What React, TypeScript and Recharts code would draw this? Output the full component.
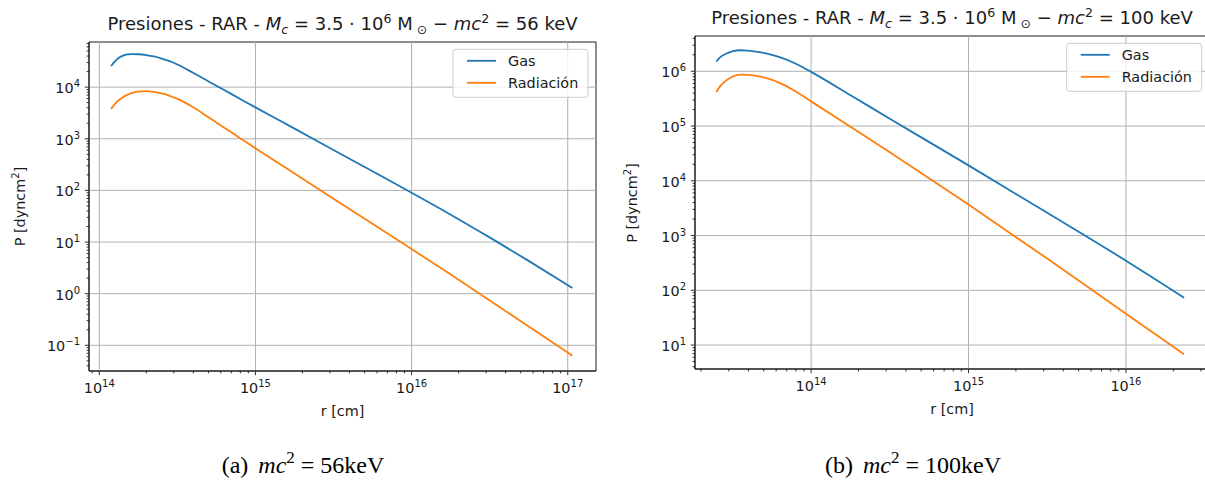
import React from 'react';
import { LineChart, Line, XAxis, YAxis, ReferenceLine, ReferenceArea } from 'recharts';

// (a) mc^2 = 56 keV
const rA = [1.19e14, 1.26e14, 1.33e14, 1.41e14, 1.51e14, 1.62e14, 1.78e14, 2.0e14, 2.24e14, 2.51e14, 2.82e14, 3.16e14, 3.98e14, 5.01e14, 6.31e14, 7.94e14, 1.0e15, 1.78e15, 3.16e15, 5.62e15, 1.0e16, 1.78e16, 3.16e16, 5.62e16, 1.07e17];
const gasA = [2.57e4, 3.16e4, 3.67e4, 4.03e4, 4.29e4, 4.37e4, 4.33e4, 4.18e4, 3.92e4, 3.57e4, 3.18e4, 2.74e4, 1.9e4, 1.29e4, 8.77e3, 5.96e3, 4.05e3, 1.57e3, 605, 234, 90.2, 33.9, 12.3, 4.32, 1.29];
const radA = [3.76e3, 4.73e3, 5.56e3, 6.31e3, 7.08e3, 7.73e3, 8.22e3, 8.39e3, 8.07e3, 7.53e3, 6.8e3, 5.94e3, 4.11e3, 2.6e3, 1.64e3, 1.04e3, 653, 213, 69.2, 22.5, 7.33, 2.34, 0.741, 0.232, 0.0631];

// (b) mc^2 = 100 keV
const rB = [2.5e13, 2.63e13, 2.88e13, 3.16e13, 3.55e13, 3.98e13, 5.01e13, 6.31e13, 7.94e13, 1.0e14, 1.78e14, 3.16e14, 1.0e15, 3.16e15, 1.0e16, 2.34e16];
const gasB = [1.51e6, 1.78e6, 2.09e6, 2.32e6, 2.42e6, 2.38e6, 2.16e6, 1.81e6, 1.39e6, 9.77e5, 3.65e5, 1.36e5, 1.91e4, 2.6e3, 347, 73.3];
const radB = [4.17e5, 5.25e5, 6.76e5, 7.94e5, 8.69e5, 8.63e5, 7.73e5, 6.14e5, 4.31e5, 2.82e5, 9.7e4, 3.31e4, 3.67e3, 380, 37.2, 6.76];

const xTicksA = [1e14, 1e15, 1e16, 1e17];
const yTicksA = [1e-1, 1, 10, 100, 1e3, 1e4];
const xTicksB = [1e14, 1e15, 1e16];
const yTicksB = [10, 100, 1e3, 1e4, 1e5, 1e6];

const seriesNames = ['Gas', 'Radiación'];
const colors = ['#1f77b4', '#ff7f0e'];

const FONT = '"DejaVu Sans", sans-serif';
const INK = '#1a1a1a';
const FS = 14.4;

const isMajor = (v: number) => {
  const l = Math.log10(v);
  return Math.abs(l - Math.round(l)) < 1e-9;
};

// major + minor (2..9) ticks inside the domain, like matplotlib's LogLocator
const logTicks = (domain: [number, number]) => {
  const out: number[] = [];
  const lo = Math.floor(Math.log10(domain[0]));
  const hi = Math.ceil(Math.log10(domain[1]));
  for (let e = lo; e <= hi; e++) {
    for (let k = 1; k <= 9; k++) {
      const v = k * Math.pow(10, e);
      if (v >= domain[0] && v <= domain[1]) out.push(v);
    }
  }
  return out;
};

const expLabel = (v: number) => {
  const e = Math.round(Math.log10(v));
  return e < 0 ? '\u2212' + Math.abs(e) : String(e);
};

const XTick = (props: any) => {
  const { x, y, payload } = props;
  const major = isMajor(payload.value);
  return (
    <g>
      <line x1={x} x2={x} y1={y} y2={y + (major ? 4.2 : 2.4)} stroke={INK} strokeWidth={0.9} />
      {major && (
        <text x={x} y={y + 22} textAnchor="middle" fontFamily={FONT} fontSize={FS} fill={INK}>
          10<tspan fontSize={10} dy={-6}>{expLabel(payload.value)}</tspan>
        </text>
      )}
    </g>
  );
};

const YTick = (props: any) => {
  const { x, y, payload } = props;
  const major = isMajor(payload.value);
  return (
    <g>
      <line x1={x} x2={x - (major ? 4.2 : 2.4)} y1={y} y2={y} stroke={INK} strokeWidth={0.9} />
      {major && (
        <text x={x - 9} y={y + 6} textAnchor="end" fontFamily={FONT} fontSize={FS} fill={INK}>
          10<tspan fontSize={10} dy={-6}>{expLabel(payload.value)}</tspan>
        </text>
      )}
    </g>
  );
};

interface PanelProps {
  left: number;
  r: number[];
  gas: number[];
  rad: number[];
  xDomain: [number, number];
  yDomain: [number, number];
  xMajor: number[];
  yMajor: number[];
  margin: { top: number; right: number; bottom: number; left: number };
}

const Panel: React.FC<PanelProps> = ({ left, r, gas, rad, xDomain, yDomain, xMajor, yMajor, margin }) => {
  const data = r.map((v, i) => ({ r: v, gas: gas[i], rad: rad[i] }));
  return (
    <div style={{ position: 'absolute', left, top: 0 }}>
      <LineChart width={620} height={400} data={data} margin={margin}>
        <XAxis
          dataKey="r"
          type="number"
          scale="log"
          domain={xDomain}
          allowDataOverflow
          ticks={logTicks(xDomain)}
          interval={0}
          tickLine={false}
          tickSize={0}
          tickMargin={0}
          tick={(p: any) => <XTick {...p} />}
          axisLine={{ stroke: INK, strokeWidth: 1 }}
          height={20}
        />
        <YAxis
          type="number"
          scale="log"
          domain={yDomain}
          allowDataOverflow
          ticks={logTicks(yDomain)}
          interval={0}
          tickLine={false}
          tickSize={0}
          tickMargin={0}
          tick={(p: any) => <YTick {...p} />}
          axisLine={{ stroke: INK, strokeWidth: 1 }}
          width={60}
        />
        {xMajor.map((v) => (
          <ReferenceLine key={'x' + v} x={v} stroke="#b0b0b0" strokeWidth={1} />
        ))}
        {yMajor.map((v) => (
          <ReferenceLine key={'y' + v} y={v} stroke="#b0b0b0" strokeWidth={1} />
        ))}
        <ReferenceArea
          x1={xDomain[0]}
          x2={xDomain[1]}
          y1={yDomain[0]}
          y2={yDomain[1]}
          fill="none"
          fillOpacity={0}
          stroke={INK}
          strokeWidth={1}
          ifOverflow="visible"
        />
        <Line dataKey="gas" type="monotone" stroke={colors[0]} strokeWidth={1.8} dot={false} isAnimationActive={false} />
        <Line dataKey="rad" type="monotone" stroke={colors[1]} strokeWidth={1.8} dot={false} isAnimationActive={false} />
      </LineChart>
    </div>
  );
};

const LegendBox = ({ right, top }: { right: number; top: number }) => {
  const x0 = right - 135;
  return (
    <g>
      <rect x={x0} y={top} width={135} height={48} rx={3} fill="#fff" fillOpacity={0.8} stroke="#cccccc" strokeWidth={1} />
      {seriesNames.map((name, i) => {
        const cy = top + 11.5 + i * 22;
        return (
          <g key={name}>
            <line x1={right - 121} x2={right - 92} y1={cy} y2={cy} stroke={colors[i]} strokeWidth={1.8} />
            <text x={right - 80} y={cy + 5.2} fontFamily={FONT} fontSize={FS} fill={INK}>
              {name}
            </text>
          </g>
        );
      })}
    </g>
  );
};

const Title = ({ cx, y, energy }: { cx: number; y: number; energy: string }) => (
  <text x={cx} y={y} textAnchor="middle" fontFamily={FONT} fontSize={18} fill={INK}>
    Presiones - RAR - <tspan fontStyle="italic">M</tspan>
    <tspan fontStyle="italic" fontSize={12.6} dy={4}>c</tspan>
    <tspan dy={-4}> = 3.5 · 10</tspan>
    <tspan fontSize={12.6} dy={-7}>6</tspan>
    <tspan dy={7}> M</tspan>
    <tspan fontSize={12.6} dy={4}> ⊙</tspan>
    <tspan dy={-4}> − </tspan>
    <tspan fontStyle="italic">mc</tspan>
    <tspan fontSize={12.6} dy={-7}>2</tspan>
    <tspan dy={7}> = {energy} keV</tspan>
  </text>
);

const YLabel = ({ x, y }: { x: number; y: number }) => (
  <text x={x} y={y} transform={`rotate(-90, ${x}, ${y})`} textAnchor="middle" fontFamily={FONT} fontSize={FS} fill={INK}>
    P [dyncm<tspan fontSize={10} dy={-6}>2</tspan>
    <tspan dy={6}>]</tspan>
  </text>
);

const Caption = ({ cx, y, tag, energy }: { cx: number; y: number; tag: string; energy: string }) => (
  <text x={cx} y={y} textAnchor="middle" fontFamily='"Liberation Serif", serif' fontSize={24} fill="#000">
    ({tag})<tspan dx={10} fontStyle="italic">mc</tspan>
    <tspan fontSize={17} dy={-10}>2</tspan>
    <tspan dy={10}> = {energy}keV</tspan>
  </text>
);

export default function App() {
  return (
    <div style={{ position: 'absolute', left: 0, top: 0, width: 1205, height: 485, overflow: 'hidden', background: '#fff' }}>
      <Panel
        left={0}
        r={rA}
        gas={gasA}
        rad={radA}
        xDomain={[8.59e13, 1.517e17]}
        yDomain={[0.0318, 7.48e4]}
        xMajor={xTicksA}
        yMajor={yTicksA}
        margin={{ top: 42, right: 24, bottom: 9, left: 29 }}
      />
      <Panel
        left={606}
        r={rB}
        gas={gasB}
        rad={radB}
        xDomain={[1.83e13, 3.37e16]}
        yDomain={[3.65, 4.41e6]}
        xMajor={xTicksB}
        yMajor={yTicksB}
        margin={{ top: 36, right: 17, bottom: 11, left: 29 }}
      />
      <svg width={1205} height={485} style={{ position: 'absolute', left: 0, top: 0, pointerEvents: 'none' }}>
        <Title cx={342.5} y={30} energy="56" />
        <Title cx={952} y={24} energy="100" />
        <YLabel x={25} y={206.5} />
        <YLabel x={637} y={203} />
        <text x={342.5} y={416} textAnchor="middle" fontFamily={FONT} fontSize={FS} fill={INK}>r [cm]</text>
        <text x={952} y={414} textAnchor="middle" fontFamily={FONT} fontSize={FS} fill={INK}>r [cm]</text>
        <LegendBox right={588} top={49.3} />
        <LegendBox right={1201.7} top={43.3} />
        <Caption cx={303} y={473} tag="a" energy="56" />
        <Caption cx={913} y={473} tag="b" energy="100" />
      </svg>
    </div>
  );
}
